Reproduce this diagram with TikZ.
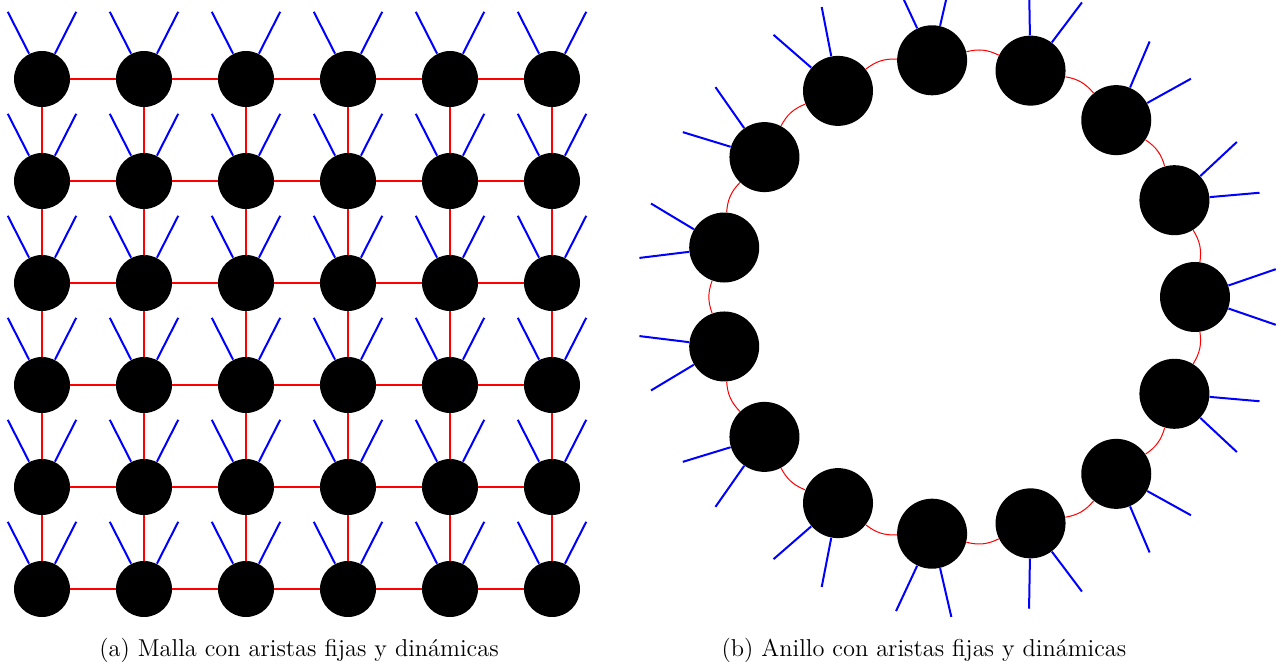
\documentclass[tikz,border=0pt]{standalone}
\tikzset{
  nodo/.style={circle, fill=black, inner sep=0pt, minimum size=28pt},
  nodoanillo/.style={circle, fill=black, inner sep=0pt, minimum size=35pt},
  fija/.style={red, line width=1pt},
  fijaanillo/.style={red, line width=0.5pt},
  dinamica/.style={blue, line width=1pt},
  pie/.style={font=\fontsize{12.2}{14}\selectfont},
}
\begin{document}
\begin{tikzpicture}[x=0.5pt, y=0.5pt]
    \useasboundingbox (0,0) rectangle (1281,664);
    \clip (0,0) rectangle (1281,664);
    % Malla de 6x6 nodos
    \foreach \i in {0,...,5}
      \foreach \j in {0,...,5}
        \node[nodo] (m-\i-\j) at ({42+102*\i},{585-102*\j}) {};
    \foreach \i in {0,...,5}
      \foreach \j in {0,...,4}{
        \pgfmathtruncatemacro{\k}{\j+1}
        \draw[fija] (m-\i-\j) -- (m-\i-\k);
        \draw[fija] (m-\j-\i) -- (m-\k-\i);
      }
    \foreach \i in {0,...,5}
      \foreach \j in {0,...,5}{
        \draw[dinamica] (m-\i-\j.63) -- ++(63:47);
        \draw[dinamica] (m-\i-\j.117) -- ++(117:47);
      }
    % Anillo de 15 nodos
    \foreach \k in {0,...,14}
      \node[nodoanillo] (a-\k) at ({957+238*cos(24*\k)},{367+238*sin(24*\k)}) {};
    \foreach \k in {0,...,14}{
      \pgfmathtruncatemacro{\s}{mod(\k+1,15)}
      \draw[fijaanillo] (a-\k) to[bend right=20] (a-\s);
    }
    \foreach \k in {0,...,14}{
      \pgfmathtruncatemacro{\p}{24*\k+19}
      \pgfmathtruncatemacro{\q}{24*\k+341}
      \draw[dinamica] (a-\k.\p) -- ++(\p:50);
      \draw[dinamica] (a-\k.\q) -- ++(\q:50);
    }
    \node[pie] (pie-a) at (299,14) {(a) Malla con aristas fijas y dinámicas};
    \node[pie] (pie-b) at (924,14) {(b) Anillo con aristas fijas y dinámicas};
\end{tikzpicture}
\end{document}
